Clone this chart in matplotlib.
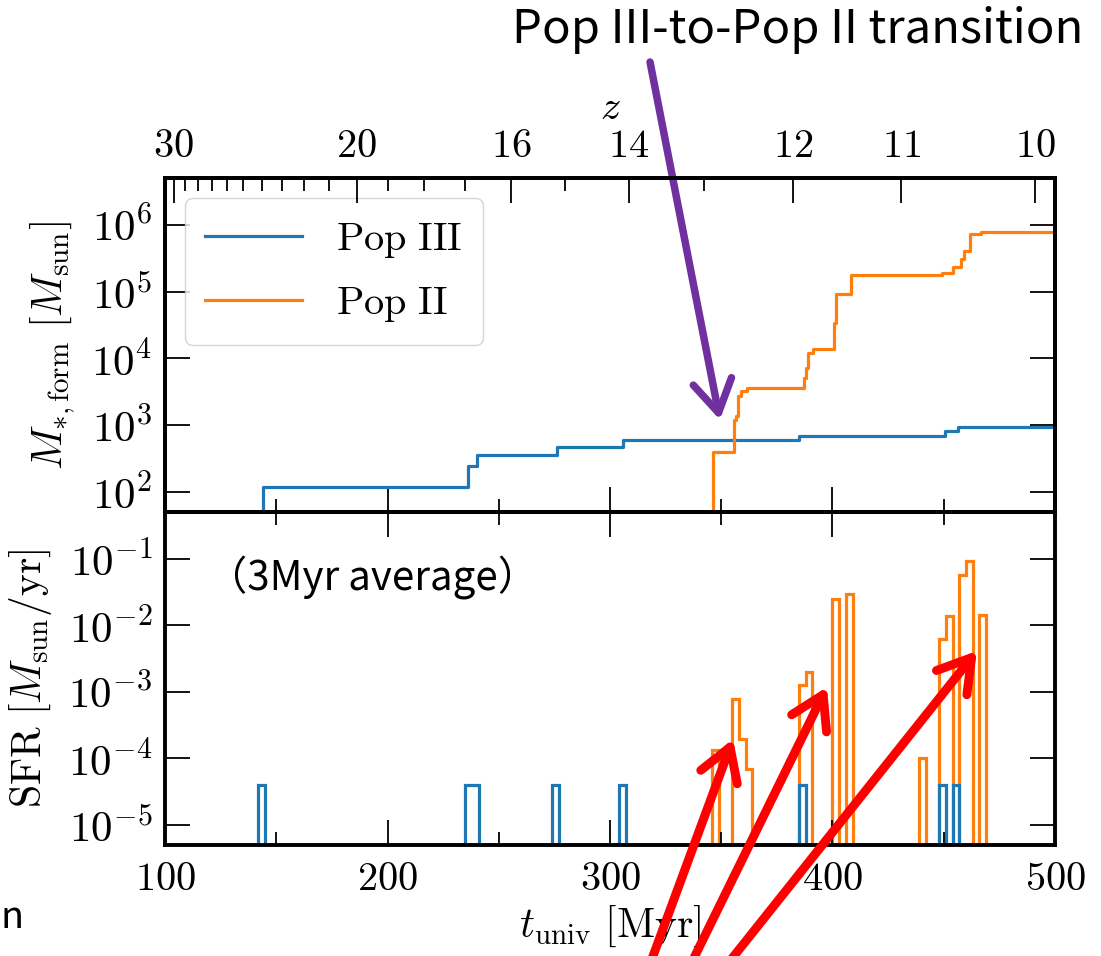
import numpy as np
import matplotlib
matplotlib.use("Agg")
import matplotlib.pyplot as plt
from matplotlib.ticker import NullLocator, FixedLocator, MultipleLocator

plt.rcParams["mathtext.fontset"] = "cm"
plt.rcParams["font.family"] = ["Noto Sans CJK JP", "DejaVu Sans"]

BLUE = "#1f77b4"
ORANGE = "#ff7f0e"
PURPLE = "#7030a0"

# cumulative formed stellar mass (step, post)
POP3_T = [100, 144.2, 236.3, 240.4, 276.3, 305.7, 385.0, 450.6, 456.2, 500]
POP3_M = [0, 119, 242, 354, 478, 608, 698, 810, 943, 943]
POP2_T = [100, 346.4, 355.6, 356.6, 357.7, 358.9, 361.4, 387.3, 388.1, 388.8, 391.1,
          400.9, 401.4, 408.5, 449.0, 454.1, 457.9, 458.9, 462.0, 466.8, 500]
POP2_M = [0, 393, 1213, 1361, 2710, 3220, 3630, 5120, 7230, 12100, 13600,
          34200, 90800, 175000, 192000, 233000, 304000, 405000, 720000, 780000, 780000]

# SFR in 3 Myr bins (bin left edge, value)
BIN_WIDTH = 3
POP3_BINS = [142, 235, 238, 274, 304, 385, 448, 454]
POP3_SFR = [4e-5, 4e-5, 4e-5, 4e-5, 4e-5, 4e-5, 4e-5, 4e-5]
POP2_BINS = [346, 355, 358, 361, 385, 388, 400, 406, 439, 448, 451, 457, 460, 466]
POP2_SFR = [1.35e-4, 7.9e-4, 1.95e-4, 6.9e-5, 1.26e-3, 1.95e-3, 2.5e-2, 2.95e-2,
            1e-4, 6.2e-3, 1.35e-2, 5.6e-2, 9.3e-2, 1.4e-2]

Z_MAJOR = [30, 20, 16, 14, 12, 11, 10]
Z_MINOR = [29, 28, 27, 26, 25, 24, 23, 22, 21, 19, 18, 17, 15, 13]


def t_of_z(z, om=0.27, h=0.7):
    ol = 1 - om
    pref = 2.0 / 3.0 * 977.79 / (100 * h) / np.sqrt(ol) * 1000  # Myr
    return pref * np.arcsinh(np.sqrt(ol / om) * (1 + np.asarray(z, float)) ** -1.5)


def binned(lefts, vals):
    edges = np.arange(100, 500, BIN_WIDTH)
    out = np.zeros(len(edges) - 1)
    for l, v in zip(lefts, vals):
        out[(l - 100) // BIN_WIDTH] = v
    return edges, out


TICK = dict(direction="in", which="major", length=18, width=1.3, pad=9, labelsize=29)
MINOR = dict(direction="in", which="minor", length=9.5, width=1.3)

fig = plt.figure(figsize=(11.01, 9.56), dpi=100)
ax1 = fig.add_axes([0.1499, 0.4644, 0.8083, 0.3494])
ax2 = fig.add_axes([0.1499, 0.1161, 0.8083, 0.3483])

for ax in (ax1, ax2):
    ax.set_xlim(100, 500)
    ax.set_yscale("log")
    ax.yaxis.set_minor_locator(NullLocator())
    ax.xaxis.set_major_locator(MultipleLocator(100))
    ax.xaxis.set_minor_locator(MultipleLocator(50))
    for s in ax.spines.values():
        s.set_linewidth(2.8)
    ax.tick_params(axis="both", left=True, right=True, bottom=True, **TICK)
    ax.tick_params(axis="y", labelsize=31)
    ax.tick_params(axis="x", bottom=True, **MINOR)

ax1.step(POP3_T, POP3_M, where="post", color=BLUE, lw=2.3, label=r"$\mathrm{Pop\ III}$")
ax1.step(POP2_T, POP2_M, where="post", color=ORANGE, lw=2.3, label=r"$\mathrm{Pop\ II}$")
ax1.set_ylim(50, 5e6)
ax1.set_yticks([1e2, 1e3, 1e4, 1e5, 1e6])
ax1.set_yticklabels([r"$10^{%d}$" % k for k in range(2, 7)])
ax1.set_xticklabels([])
ax1.set_ylabel(r"$M_{*,\rm form}\ [M_{\rm sun}]$", fontsize=30, labelpad=10)
ax1.legend(loc="upper left", fontsize=29, handlelength=2.4, handletextpad=0.85,
           labelspacing=0.55, borderpad=0.5, fancybox=True)

e3, v3 = binned(POP3_BINS, POP3_SFR)
e2, v2 = binned(POP2_BINS, POP2_SFR)
ax2.stairs(v2, e2, baseline=None, color=ORANGE, lw=2.3)
ax2.stairs(v3, e3, baseline=None, color=BLUE, lw=2.3)
ax2.set_ylim(5e-6, 0.5)
ax2.set_yticks([1e-5, 1e-4, 1e-3, 1e-2, 1e-1])
ax2.set_yticklabels([r"$10^{%d}$" % k for k in range(-5, 0)])
ax2.tick_params(axis="x", top=True, **TICK)
ax2.tick_params(axis="x", top=True, **MINOR)
ax2.set_xticks([100, 200, 300, 400, 500])
ax2.set_xticklabels([r"$%d$" % v for v in [100, 200, 300, 400, 500]])
ax2.set_ylabel(r"$\mathrm{SFR}\ [M_{\rm sun}/\mathrm{yr}]$", fontsize=30, labelpad=10)
ax2.set_xlabel(r"$t_{\rm univ}\ [\mathrm{Myr}]$", fontsize=30, labelpad=4)
ax2.text(0.047, 0.805, "（3Myr average）", transform=ax2.transAxes, fontsize=29,
         va="center", ha="left")

# redshift axis
axz = ax1.twiny()
axz.set_xlim(100, 500)
axz.xaxis.set_major_locator(FixedLocator(t_of_z(Z_MAJOR)))
axz.xaxis.set_minor_locator(FixedLocator(t_of_z(Z_MINOR)))
axz.set_xticklabels([r"$%d$" % z for z in Z_MAJOR])
axz.tick_params(axis="x", top=True, **TICK)
axz.tick_params(axis="x", top=True, **MINOR)
axz.set_xlabel(r"$z$", fontsize=29, labelpad=4)
for s in axz.spines.values():
    s.set_linewidth(2.8)

fig.align_ylabels([ax1, ax2])

# annotations
fig.text(0.9837, 0.9686, "Pop III-to-Pop II transition", fontsize=34, ha="right", va="center")
fig.text(0.0, 0.04, "n", fontsize=27, ha="left", va="center")

head = "->,head_length=2.3,head_width=1.4"
ax1.annotate("", xy=(349.4, 1.2e3), xycoords="data", xytext=(0.5904, 0.9351),
             textcoords="figure fraction", annotation_clip=False,
             arrowprops=dict(arrowstyle=head, color=PURPLE, lw=5.4, shrinkA=0, shrinkB=0,
                             mutation_scale=10, capstyle="round", joinstyle="round"))
red_tips = [(355.3, 1.95e-4), (397.5, 1.18e-3), (464.9, 4.1e-3)]
red_tails = [(0.5864, -0.021), (0.6222, -0.021), (0.6521, -0.021)]
for tip, tail in zip(red_tips, red_tails):
    ax2.annotate("", xy=tip, xycoords="data", xytext=tail,
                 textcoords="figure fraction", annotation_clip=False,
                 arrowprops=dict(arrowstyle=head, color="red", lw=6.4, shrinkA=0, shrinkB=0,
                                 mutation_scale=10, capstyle="round", joinstyle="round"))

fig.savefig("out.png", dpi=100)
